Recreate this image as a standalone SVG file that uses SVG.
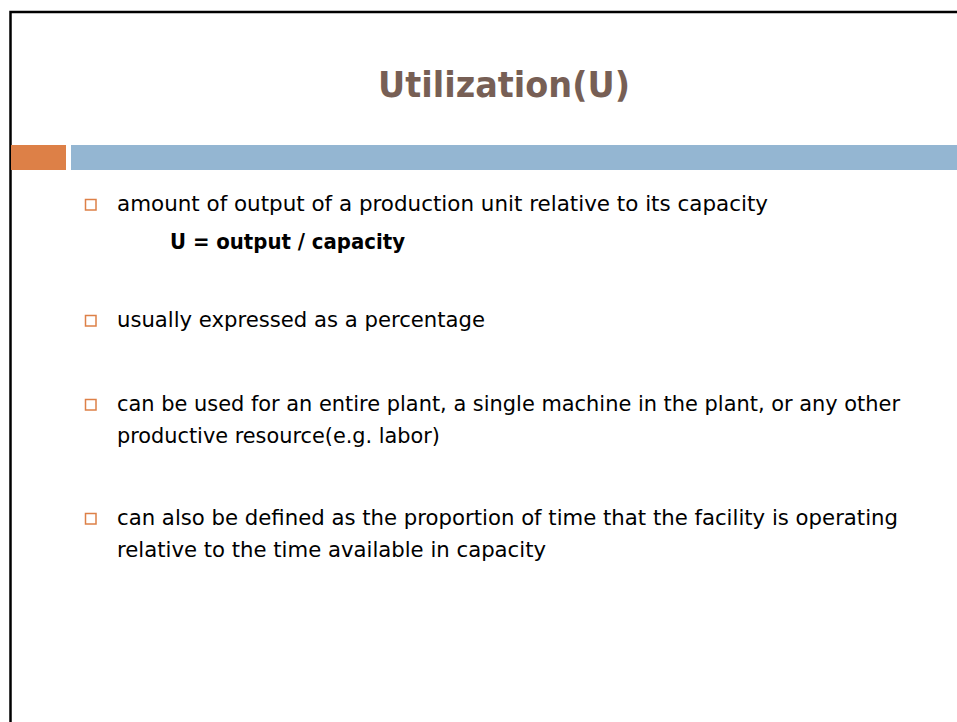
<svg xmlns="http://www.w3.org/2000/svg" width="957" height="722" viewBox="0 0 957 722">
<style>
.frame{fill:none;stroke:#000;stroke-width:2.5}
.title{font-family:"DejaVu Sans","Liberation Sans",sans-serif;font-weight:bold;font-size:35px;fill:#775F55}
.body{font-family:"DejaVu Sans","Liberation Sans",sans-serif;font-size:21px;fill:#000}
.bold{font-weight:bold}
.bullet{fill:none;stroke:#DD8047;stroke-width:1.5}
</style>
<rect width="957" height="722" fill="#fff"/>
<path class="frame" d="M10.5 722 V12 H957"/>
<rect x="11" y="145" width="55" height="25" fill="#DD8047"/>
<rect x="71" y="145" width="886" height="25" fill="#94B6D2"/>
<g id="title">
<text class="title" x="378" y="97" textLength="252" lengthAdjust="spacingAndGlyphs">Utilization(U)</text>
</g>
<g id="bullet1">
<rect class="bullet" x="85.5" y="199.5" width="10.5" height="10.5"/>
<text class="body" x="117" y="211" textLength="651" lengthAdjust="spacingAndGlyphs">amount of output of a production unit relative to its capacity</text>
<text class="body bold" x="170" y="249" textLength="235" lengthAdjust="spacingAndGlyphs">U = output / capacity</text>
</g>
<g id="bullet2">
<rect class="bullet" x="85.5" y="315.5" width="10.5" height="10.5"/>
<text class="body" x="117" y="327" textLength="368" lengthAdjust="spacingAndGlyphs">usually expressed as a percentage</text>
</g>
<g id="bullet3">
<rect class="bullet" x="85.5" y="399.5" width="10.5" height="10.5"/>
<text class="body" x="117" y="411" textLength="783" lengthAdjust="spacingAndGlyphs">can be used for an entire plant, a single machine in the plant, or any other</text>
<text class="body" x="117" y="443" textLength="323" lengthAdjust="spacingAndGlyphs">productive resource(e.g. labor)</text>
</g>
<g id="bullet4">
<rect class="bullet" x="85.5" y="513.5" width="10.5" height="10.5"/>
<text class="body" x="117" y="525" textLength="781" lengthAdjust="spacingAndGlyphs">can also be defined as the proportion of time that the facility is operating</text>
<text class="body" x="117" y="557" textLength="429" lengthAdjust="spacingAndGlyphs">relative to the time available in capacity</text>
</g>
</svg>
